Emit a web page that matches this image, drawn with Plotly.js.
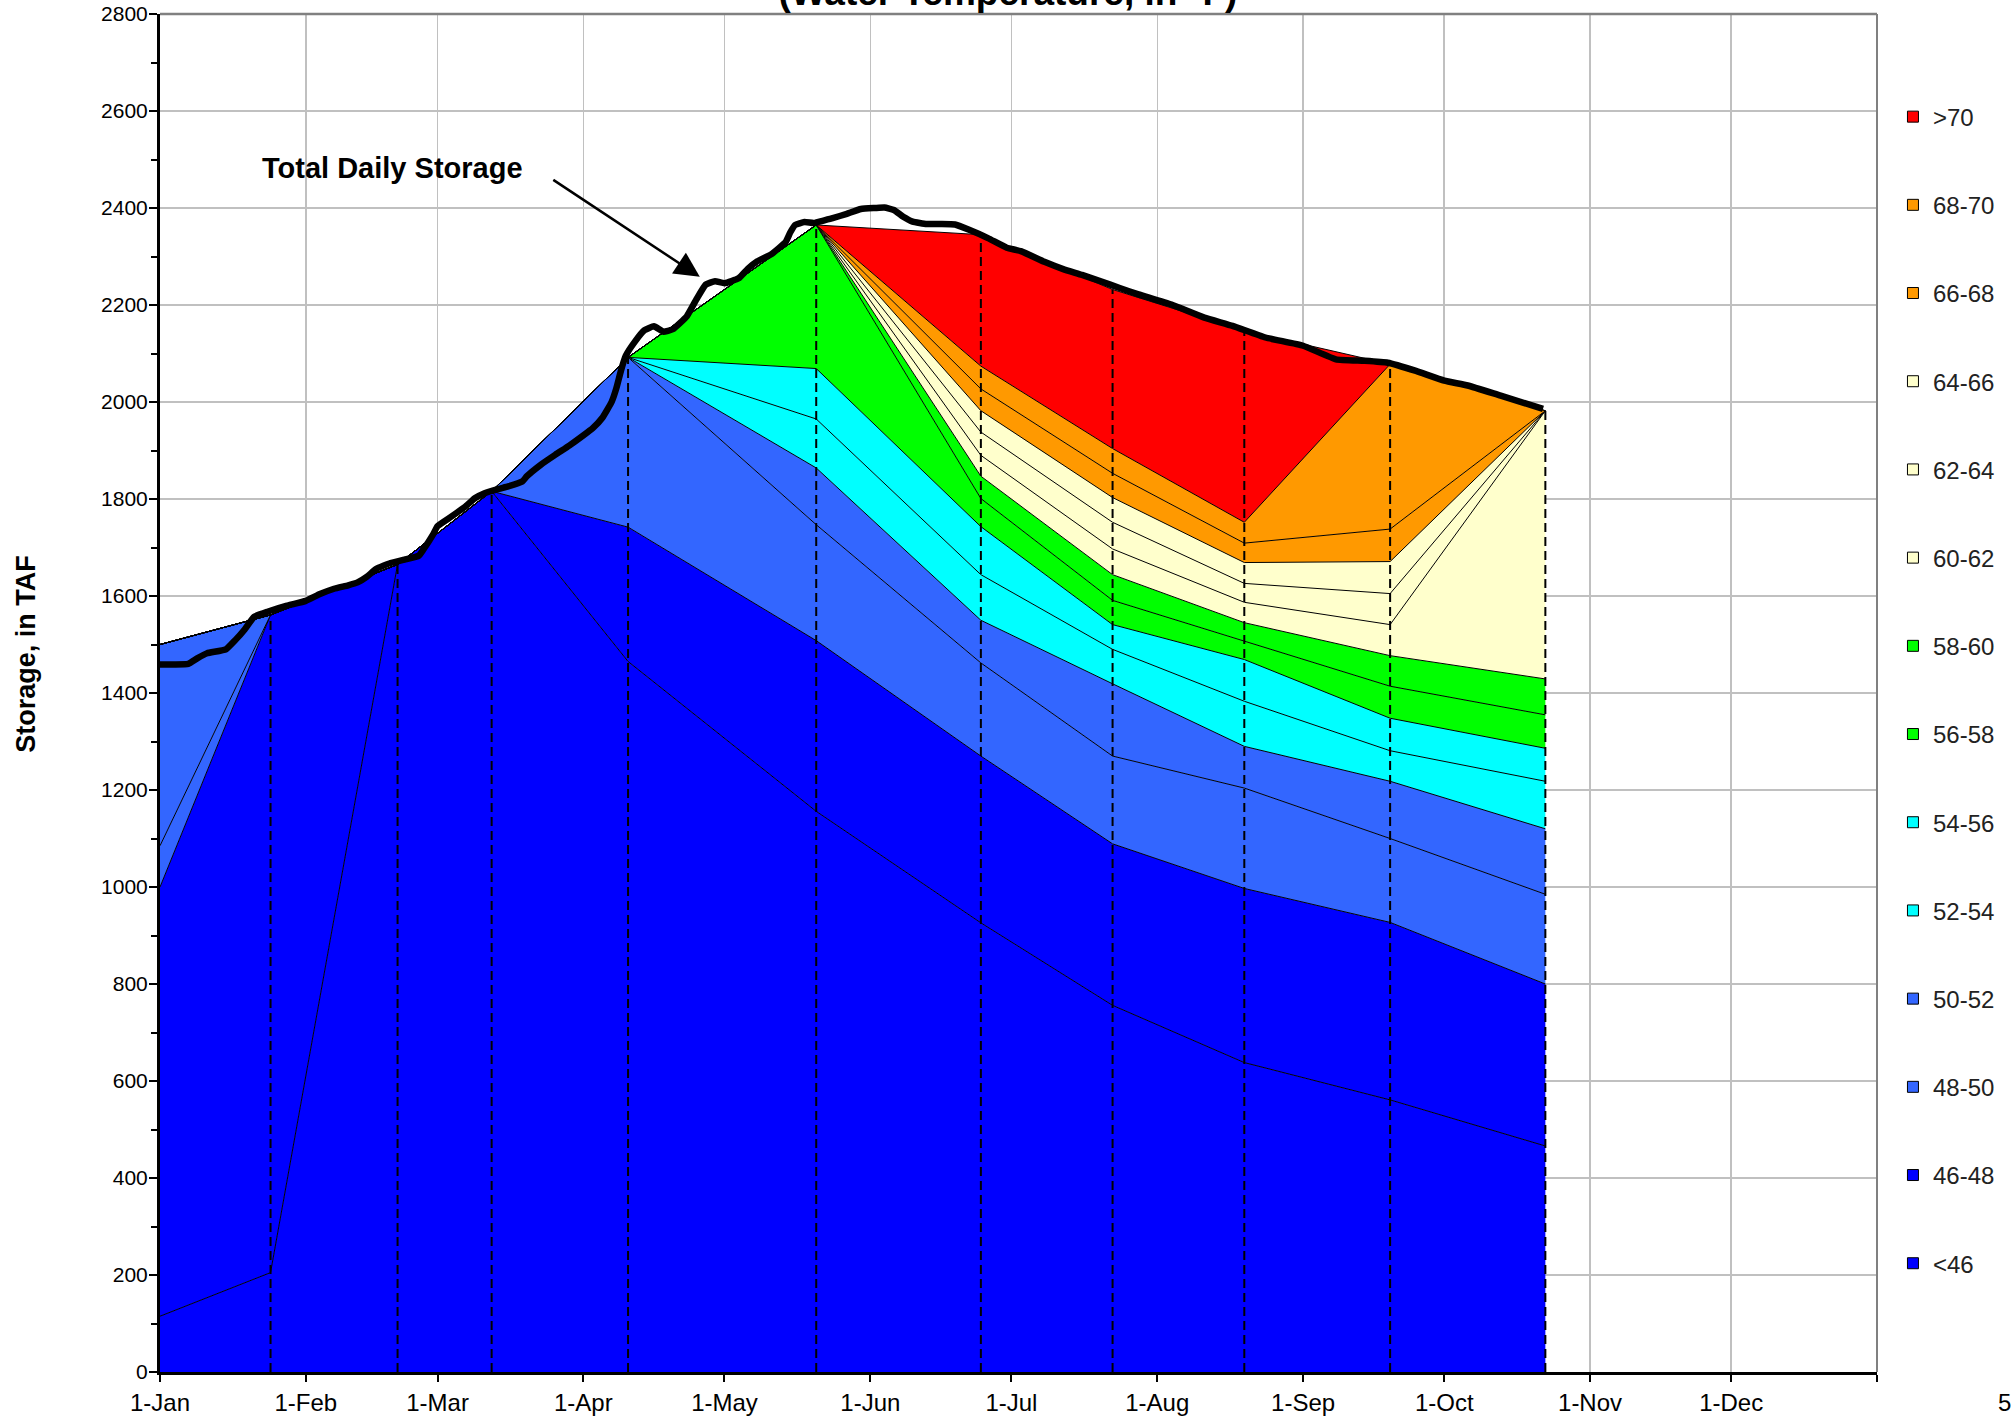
<!DOCTYPE html>
<html>
<head>
<meta charset="utf-8">
<script src="https://cdn.plot.ly/plotly-3.0.1.min.js"></script>
<style>
html,body{margin:0;padding:0;background:#fff;}
#chart{width:2013px;height:1417px;}
</style>
</head>
<body>
<div id="chart"></div>
<script>
// ---- Data ----
const profileDates = ['2009-01-01','2009-01-24 12:00','2009-02-20 12:00','2009-03-12 12:00','2009-04-10 12:00',
  '2009-05-20 12:00','2009-06-24 12:00','2009-07-22 12:00','2009-08-19 12:00','2009-09-19 12:00','2009-10-22 12:00'];

const tempBands = ['<46','46-48','48-50','50-52','52-54','54-56','56-58','58-60','60-62','62-64','64-66','66-68','68-70','>70'];
const bandColors = ['#0000FF','#0000FF','#3366FF','#3366FF','#00FFFF','#00FFFF','#00FF00','#00FF00','#FFFFCC','#FFFFCC','#FFFFCC','#FF9900','#FF9900','#FF0000'];

// cumulative storage (TAF) at or below the top of each temperature band, per profile date
const band_lt46  = [115, 205, 1665, 1816, 1465, 1156, 926, 756, 638, 561, 466];
const band_46_48 = [1000, 1561, 1665, 1816, 1742, 1508, 1270, 1089, 997, 927, 800];
const band_48_50 = [1085, 1561, 1665, 1816, 2092, 1747, 1462, 1270, 1204, 1100, 985];
const band_50_52 = [1500, 1561, 1665, 1816, 2092, 1864, 1550, 1419, 1290, 1218, 1120];
const band_52_54 = [1500, 1561, 1665, 1816, 2092, 1965, 1644, 1490, 1383, 1281, 1218];
const band_54_56 = [1500, 1561, 1665, 1816, 2092, 2069, 1743, 1541, 1469, 1348, 1286];
const band_56_58 = [1500, 1561, 1665, 1816, 2092, 2365, 1801, 1591, 1507, 1414, 1355];
const band_58_60 = [1500, 1561, 1665, 1816, 2092, 2365, 1847, 1644, 1545, 1477, 1429];
const band_60_62 = [1500, 1561, 1665, 1816, 2092, 2365, 1890, 1697, 1587, 1541, 1982];
const band_62_64 = [1500, 1561, 1665, 1816, 2092, 2365, 1938, 1752, 1626, 1605, 1982];
const band_64_66 = [1500, 1561, 1665, 1816, 2092, 2365, 1982, 1803, 1669, 1671, 1982];
const band_66_68 = [1500, 1561, 1665, 1816, 2092, 2365, 2027, 1853, 1709, 1738, 1982];
const band_68_70 = [1500, 1561, 1665, 1816, 2092, 2365, 2074, 1904, 1752, 2078, 1982];
const band_gt70  = [1500, 1561, 1665, 1816, 2092, 2365, 2345, 2232, 2147, 2078, 1982];

const storageDates = ['2009-01-01','2009-01-04','2009-01-07','2009-01-09','2009-01-11','2009-01-15','2009-01-17','2009-01-19',
  '2009-01-21','2009-01-24','2009-01-28','2009-02-01','2009-02-04','2009-02-07','2009-02-10','2009-02-12','2009-02-14',
  '2009-02-16','2009-02-19','2009-02-22','2009-02-25','2009-02-26','2009-02-28','2009-03-01','2009-03-04','2009-03-07',
  '2009-03-09','2009-03-11','2009-03-14','2009-03-16','2009-03-19','2009-03-20','2009-03-23','2009-03-26','2009-03-29',
  '2009-04-01','2009-04-03','2009-04-05','2009-04-07','2009-04-08','2009-04-09','2009-04-10','2009-04-12','2009-04-14',
  '2009-04-16','2009-04-18','2009-04-20','2009-04-23','2009-04-25','2009-04-27','2009-04-29','2009-05-01','2009-05-04',
  '2009-05-06','2009-05-08','2009-05-11','2009-05-14','2009-05-15','2009-05-16','2009-05-18','2009-05-20','2009-05-22',
  '2009-05-24','2009-05-27','2009-05-30','2009-06-02','2009-06-04','2009-06-06','2009-06-08','2009-06-10','2009-06-13',
  '2009-06-16','2009-06-19','2009-06-22','2009-06-26','2009-06-30','2009-07-03','2009-07-08','2009-07-12','2009-07-16',
  '2009-07-20','2009-07-24','2009-07-28','2009-08-04','2009-08-11','2009-08-17','2009-08-24','2009-09-01','2009-09-08',
  '2009-09-14','2009-09-19','2009-09-25','2009-10-01','2009-10-06','2009-10-13','2009-10-22'];
const storageValues = [1459,1459,1460,1472,1482,1490,1509,1531,
  1557,1568,1580,1590,1604,1615,1622,1628,1640,
  1656,1668,1675,1683,1696,1726,1744,1764,1785,
  1802,1812,1821,1826,1836,1847,1871,1891,1910,
  1931,1946,1967,2000,2028,2065,2095,2125,2148,
  2156,2145,2150,2177,2211,2242,2249,2245,2255,
  2275,2290,2305,2330,2350,2365,2371,2369,2374,
  2379,2388,2398,2400,2401,2396,2382,2372,2367,
  2367,2366,2355,2338,2318,2311,2289,2274,2262,
  2249,2235,2222,2201,2174,2157,2133,2116,2088,
  2085,2081,2064,2044,2034,2013,1986];

const monthTicks = ['2009-01-01','2009-02-01','2009-03-01','2009-04-01','2009-05-01','2009-06-01','2009-07-01',
  '2009-08-01','2009-09-01','2009-10-01','2009-11-01','2009-12-01','2010-01-01'];
const monthLabels = ['1-Jan','1-Feb','1-Mar','1-Apr','1-May','1-Jun','1-Jul','1-Aug','1-Sep','1-Oct','1-Nov','1-Dec',''];

// ---- Build traces ----
const FONT = 'Liberation Sans, Arial, Helvetica, sans-serif';
const bandTops = [band_lt46, band_46_48, band_48_50, band_50_52, band_52_54, band_54_56, band_56_58,
  band_58_60, band_60_62, band_62_64, band_64_66, band_66_68, band_68_70, band_gt70];

const traces = [];
bandTops.forEach((vals, i) => {
  traces.push({
    type: 'scatter', mode: 'lines', x: profileDates, y: vals,
    fill: i === 0 ? 'tozeroy' : 'tonexty', fillcolor: bandColors[i],
    line: {color: '#000', width: 1}, name: tempBands[i], showlegend: false, hoverinfo: 'skip'
  });
});

// dashed profile-date lines from 0 up to the total
const dashX = [], dashY = [];
for (let i = 1; i < profileDates.length; i++) {
  dashX.push(profileDates[i], profileDates[i], null);
  dashY.push(0, band_gt70[i], null);
}
traces.push({type: 'scatter', mode: 'lines', x: dashX, y: dashY, line: {color: '#000', width: 2, dash: '9px,5px'},
  showlegend: false, hoverinfo: 'skip'});

// total daily storage
traces.push({type: 'scatter', mode: 'lines', x: storageDates, y: storageValues,
  line: {color: '#000', width: 6.5, shape: 'spline', smoothing: 0.4},
  showlegend: false, hoverinfo: 'skip', name: 'Total Daily Storage'});

// legend entries (top = >70)
for (let i = tempBands.length - 1; i >= 0; i--) {
  traces.push({type: 'scatter', mode: 'markers', x: [null], y: [null], name: tempBands[i],
    legendgroup: 'g' + i, showlegend: true, hoverinfo: 'skip',
    marker: {symbol: 'square', size: 11, color: bandColors[i], line: {color: '#000', width: 1}}});
}

const layout = {
  width: 2013, height: 1417,
  margin: {l: 160, r: 136, t: 14, b: 45},
  paper_bgcolor: '#fff', plot_bgcolor: '#fff',
  font: {family: FONT, color: '#000', size: 22},
  title: {text: '(Water Temperature, in °F)', font: {family: FONT, size: 37, weight: 'bold', color: '#000'},
    xref: 'container', x: 0.5007, xanchor: 'center', yref: 'container', y: 0.9962, yanchor: 'bottom'},
  xaxis: {
    type: 'date', range: ['2009-01-01', '2010-01-01'],
    tickmode: 'array', tickvals: monthTicks, ticktext: monthLabels,
    ticks: 'outside', ticklen: 7, tickwidth: 2, tickcolor: '#000',
    showgrid: true, gridcolor: '#c0c0c0', gridwidth: 1.5,
    showline: true, linecolor: '#000', linewidth: 3,
    tickfont: {family: FONT, size: 24, color: '#000'}, zeroline: false, fixedrange: true
  },
  yaxis: {
    range: [0, 2800], dtick: 200, tick0: 0,
    ticks: 'outside', ticklen: 8, tickwidth: 2, tickcolor: '#000',
    minor: {dtick: 100, ticks: 'outside', ticklen: 6, tickwidth: 2, tickcolor: '#000', showgrid: false},
    showgrid: true, gridcolor: '#c0c0c0', gridwidth: 1.5,
    showline: true, linecolor: '#000', linewidth: 3, zeroline: false,
    tickfont: {family: FONT, size: 21, color: '#000'}, ticklabelstandoff: -3,
    fixedrange: true
  },
  legend: {
    x: 1.0093, xanchor: 'left', y: 0.9407, yanchor: 'top',
    tracegroupgap: 54, bgcolor: 'rgba(0,0,0,0)', borderwidth: 0,
    font: {family: FONT, size: 24, color: '#222'}, traceorder: 'grouped'
  },
  shapes: [
    {type: 'line', xref: 'paper', yref: 'paper', x0: 0, x1: 1, y0: 1, y1: 1, line: {color: '#808080', width: 2.5}},
    {type: 'line', xref: 'paper', yref: 'paper', x0: 1, x1: 1, y0: 0, y1: 1, line: {color: '#808080', width: 2}}
  ],
  annotations: [
    {text: '<b>Storage, in TAF</b>', xref: 'paper', yref: 'paper', x: -0.078, y: 0.529, textangle: -90,
      xanchor: 'center', yanchor: 'middle', showarrow: false, font: {family: FONT, size: 27, color: '#000'}},
    {text: '<b>Total Daily Storage</b>', xref: 'paper', yref: 'paper', x: 0.1357, y: 0.8866,
      xanchor: 'center', yanchor: 'middle', showarrow: false, font: {family: FONT, size: 29, color: '#000'}},
    {text: '', x: '2009-04-25 18:00', y: 2258, xref: 'x', yref: 'y', ax: -148, ay: -98,
      showarrow: true, arrowhead: 2, arrowsize: 2, arrowwidth: 2.5, arrowcolor: '#000'},
    {text: '5', xref: 'paper', yref: 'paper', x: 1.0745, y: -0.0228, xanchor: 'center', yanchor: 'middle',
      showarrow: false, font: {family: FONT, size: 24, color: '#000'}}
  ]
};

Plotly.newPlot('chart', traces, layout, {displayModeBar: false, staticPlot: true});
</script>
</body>
</html>
